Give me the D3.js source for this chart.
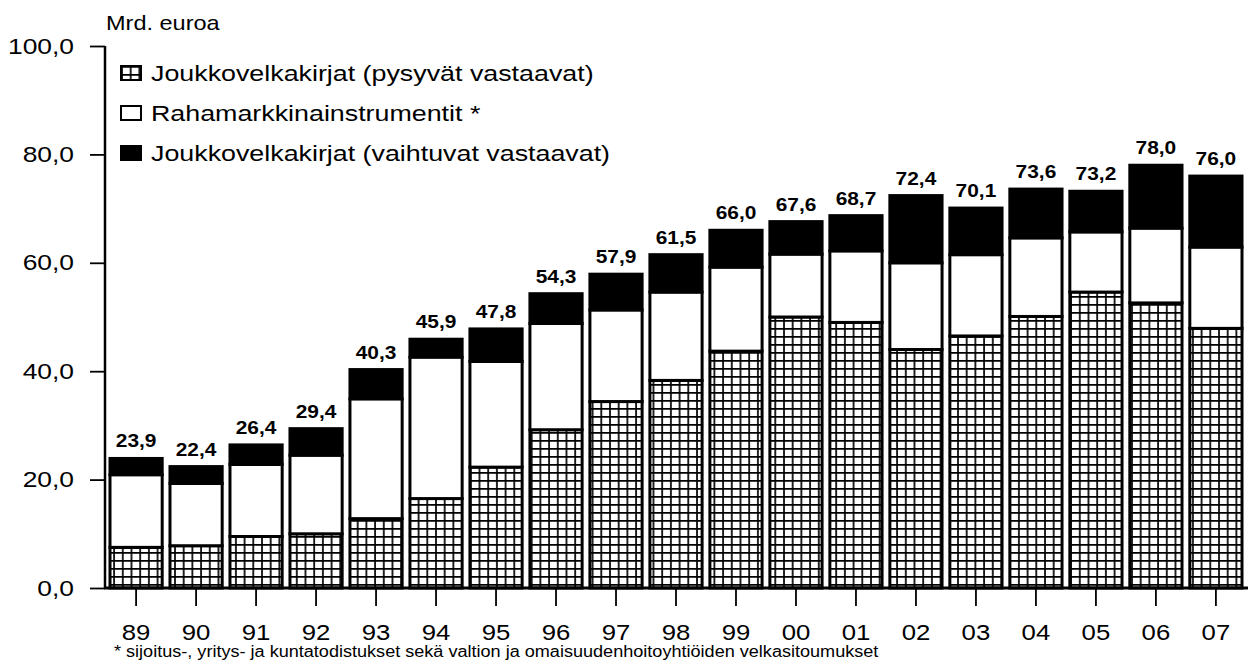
<!DOCTYPE html>
<html>
<head>
<meta charset="utf-8">
<script src="https://cdn.jsdelivr.net/npm/d3@7"></script>
<style>
  body { margin: 0; background: #fff; }
  svg text { font-family: "Liberation Sans", Arial, sans-serif; fill: #000; }
</style>
</head>
<body>
<svg id="chart" width="1248" height="661"></svg>
<script>
// data (mrd. euroa)
var years = ["89", "90", "91", "92", "93", "94", "95", "96", "97", "98", "99", "00", "01", "02", "03", "04", "05", "06", "07"];
var pysyvat = [7.5, 7.8, 9.5, 10.0, 12.8, 16.5, 22.3, 29.2, 34.4, 38.3, 43.7, 50.0, 49.0, 44.0, 46.5, 50.1, 54.6, 52.6, 47.9];
var rahamarkkina = [13.4, 11.5, 13.3, 14.5, 22.1, 26.1, 19.5, 19.6, 16.9, 16.3, 15.5, 11.6, 13.2, 16.0, 15.0, 14.5, 11.1, 13.8, 15.0];
var vaihtuvat = [3.0, 3.1, 3.6, 4.9, 5.4, 3.3, 6.0, 5.5, 6.6, 6.9, 6.8, 6.0, 6.5, 12.4, 8.6, 9.0, 7.5, 11.6, 13.1];
var totals = [23.9, 22.4, 26.4, 29.4, 40.3, 45.9, 47.8, 54.3, 57.9, 61.5, 66.0, 67.6, 68.7, 72.4, 70.1, 73.6, 73.2, 78.0, 76.0];
var yTicks = [0, 20, 40, 60, 80, 100];
var legendLabels = ["Joukkovelkakirjat (pysyvät vastaavat)", "Rahamarkkinainstrumentit *", "Joukkovelkakirjat (vaihtuvat vastaavat)"];
var footnote = "* sijoitus-, yritys- ja kuntatodistukset sekä valtion ja omaisuudenhoitoyhtiöiden velkasitoumukset";

var svg = d3.select("#chart");
var fmt = function (v) { return d3.format(".1f")(v).replace(".", ","); };

// the scanned original has wide lettering, so text gets stretched sideways
function stretch(sel, k) {
    sel.each(function () {
        var t = d3.select(this);
        var tx = +t.attr("x") || 0, ty = +t.attr("y") || 0;
        t.attr("x", 0).attr("y", 0)
            .attr("transform", "translate(" + tx + "," + ty + ") scale(" + k + ",1)");
    });
}

// stack table built from the arrays
var keys = ["pysyvat", "rahamarkkina", "vaihtuvat"];
var table = years.map(function (y, i) {
    return { year: y, pysyvat: pysyvat[i], rahamarkkina: rahamarkkina[i], vaihtuvat: vaihtuvat[i] };
});
var series = d3.stack().keys(keys)(table);

var x = d3.scaleBand().domain(years).range([104, 1248]).paddingInner(0.13).paddingOuter(0.1);
var y = d3.scaleLinear().domain([0, 100]).range([588, 46]);

// grid hatch for the first series
var defs = svg.append("defs");
var pat = defs.append("pattern")
    .attr("id", "grid")
    .attr("patternUnits", "userSpaceOnUse")
    .attr("width", 8.7).attr("height", 8);
pat.append("rect").attr("width", 8.7).attr("height", 8).attr("fill", "#fff");
pat.append("path").attr("d", "M0,0.8H8.7M1,0V8").attr("stroke", "#000").attr("stroke-width", 1.7);

var fills = { pysyvat: "url(#grid)", rahamarkkina: "#fff", vaihtuvat: "#000" };

// bars
svg.append("g")
    .selectAll("g")
    .data(series)
    .enter().append("g")
    .attr("fill", function (d) { return fills[d.key]; })
    .selectAll("rect")
    .data(function (d) { return d; })
    .enter().append("rect")
    .attr("x", function (d) { return x(d.data.year); })
    .attr("y", function (d) { return y(d[1]); })
    .attr("width", x.bandwidth())
    .attr("height", function (d) { return y(d[0]) - y(d[1]); })
    .attr("stroke", "#000")
    .attr("stroke-width", 3);

// total labels
svg.append("g")
    .selectAll("text")
    .data(totals)
    .enter().append("text")
    .attr("x", function (d, i) { return x(years[i]) + x.bandwidth() / 2; })
    .attr("y", function (d) { return y(d) - 11; })
    .attr("text-anchor", "middle")
    .attr("font-size", 19)
    .attr("font-weight", "bold")
    .text(fmt)
    .call(stretch, 1.1);

// y axis
var yAxis = svg.append("g")
    .attr("transform", "translate(105,0)")
    .call(d3.axisLeft(y).tickValues(yTicks).tickSize(15).tickPadding(16).tickFormat(fmt));
yAxis.select(".domain").attr("d", "M0,46V588").attr("stroke-width", 2.5);
yAxis.selectAll(".tick line").attr("stroke-width", 1.8);
yAxis.selectAll("text").attr("font-size", 22).attr("font-family", null).call(stretch, 1.2);

// x axis
var xAxis = svg.append("g")
    .attr("transform", "translate(0,588)")
    .call(d3.axisBottom(x).tickSize(18).tickPadding(18));
xAxis.select(".domain").attr("d", "M104,0H1248").attr("stroke-width", 3);
xAxis.selectAll(".tick line").attr("stroke-width", 1.8);
xAxis.selectAll("text").attr("font-size", 23).attr("font-family", null).call(stretch, 1.12);

// unit
svg.append("text")
    .attr("x", 106).attr("y", 30)
    .attr("font-size", 21)
    .text("Mrd. euroa")
    .call(stretch, 1.12);

// legend
var legend = svg.append("g")
    .selectAll("g")
    .data(keys)
    .enter().append("g")
    .attr("transform", function (d, i) { return "translate(121," + (66 + i * 40) + ")"; });
legend.append("rect")
    .attr("width", 20).attr("height", 14)
    .attr("fill", function (d) { return fills[d]; })
    .attr("stroke", "#000").attr("stroke-width", 2);
legend.append("text")
    .attr("x", 30).attr("y", 15)
    .attr("font-size", 22)
    .text(function (d, i) { return legendLabels[i]; })
    .call(stretch, 1.22);

// footnote
svg.append("text")
    .attr("x", 114).attr("y", 657)
    .attr("font-size", 16)
    .text(footnote)
    .call(stretch, 1.13);
</script>
</body>
</html>
